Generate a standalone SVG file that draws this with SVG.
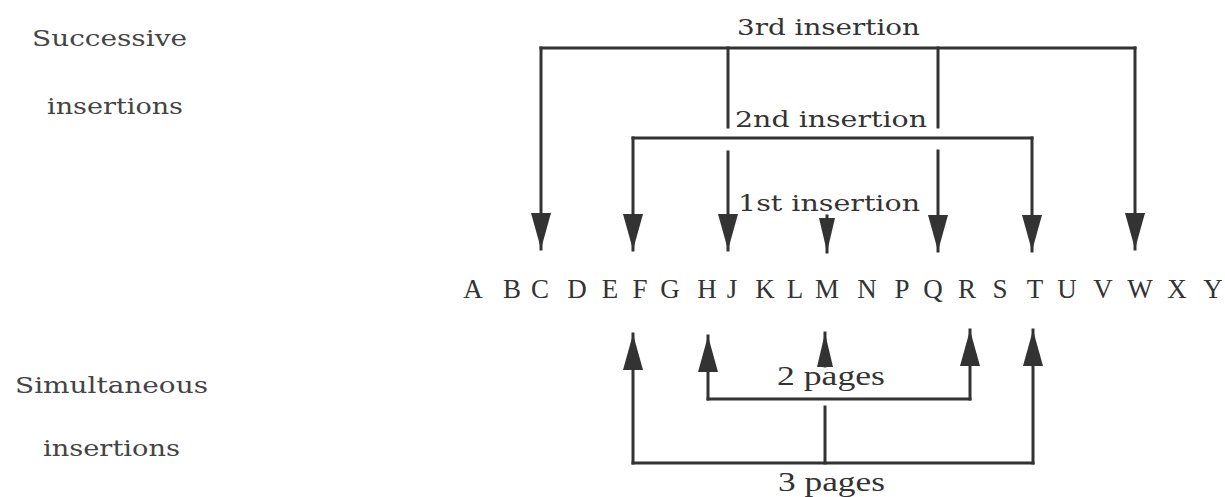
<svg xmlns="http://www.w3.org/2000/svg" width="1225" height="497" viewBox="0 0 1225 497">
  <defs>
    <marker id="big" viewBox="0 0 36 20" refX="36" refY="10" markerWidth="36" markerHeight="20" markerUnits="userSpaceOnUse" orient="auto">
      <path d="M0,0 L36,10 L0,20 z" fill="#333"/>
    </marker>
    <marker id="small" viewBox="0 0 34 16" refX="34" refY="8" markerWidth="34" markerHeight="16" markerUnits="userSpaceOnUse" orient="auto">
      <path d="M0,0 L34,8 L0,16 z" fill="#333"/>
    </marker>
  </defs>
  <style>
    .ln { fill: none; stroke: #333; stroke-width: 3; stroke-linecap: square; }
    .ab { marker-end: url(#big); }
    .as { marker-end: url(#small); }
    .lbl { font-family: "DejaVu Serif", "Liberation Serif", serif; font-size: 22px; fill: #333; }
    .side { font-family: "DejaVu Serif", "Liberation Serif", serif; font-size: 23px; fill: #444; }
    .row { font-family: "Liberation Serif", serif; font-size: 27px; fill: #333; text-anchor: middle; }
    .pg { font-family: "Liberation Serif", serif; font-size: 27px; fill: #333; }
  </style>
  <rect width="1225" height="497" fill="#fff"/>

  <g id="side-labels">
    <text class="side" x="32" y="46" textLength="155" lengthAdjust="spacingAndGlyphs">Successive</text>
    <text class="side" x="47" y="114" textLength="136" lengthAdjust="spacingAndGlyphs">insertions</text>
    <text class="side" x="15" y="393" textLength="193" lengthAdjust="spacingAndGlyphs">Simultaneous</text>
    <text class="side" x="43" y="456" textLength="137" lengthAdjust="spacingAndGlyphs">insertions</text>
  </g>

  <g id="letters">
    <text class="row" y="298" x="473 512 540 577 610 640 670 707 732 765 795 827 867 902 933 967 1000 1035 1067 1103 1140 1177 1213">ABCDEFGHJKLMNPQRSTUVWXY</text>
  </g>

  <g id="labels">
    <text class="lbl" x="737" y="35" textLength="183" lengthAdjust="spacingAndGlyphs">3rd insertion</text>
    <text class="lbl" x="735" y="127" textLength="192" lengthAdjust="spacingAndGlyphs">2nd insertion</text>
    <text class="lbl" x="738" y="211" textLength="182" lengthAdjust="spacingAndGlyphs">1st insertion</text>
    <text class="pg" x="777" y="385" textLength="108" lengthAdjust="spacingAndGlyphs">2 pages</text>
    <text class="pg" x="778" y="491" textLength="107" lengthAdjust="spacingAndGlyphs">3 pages</text>
  </g>

  <g id="connectors">
    <!-- 3rd insertion -->
    <path class="ln" d="M541,48 H1135"/>
    <path class="ln ab" d="M541,48 V249"/>
    <path class="ln ab" d="M1135,48 V249"/>
    <path class="ln" d="M728,48 V127"/>
    <path class="ln" d="M938,48 V127"/>
    <!-- 2nd insertion -->
    <path class="ln" d="M633,138 H1032"/>
    <path class="ln ab" d="M633,138 V250"/>
    <path class="ln ab" d="M1032,138 V251"/>
    <path class="ln ab" d="M728,152 V250"/>
    <path class="ln ab" d="M938,151 V251"/>
    <!-- 1st insertion -->
    <path class="ln as" d="M827,216 V252"/>
    <!-- 2 pages -->
    <path class="ln as" d="M825,366 V333"/>
    <path class="ln ab" d="M708,399 V336"/>
    <path class="ln ab" d="M970,399 V330"/>
    <path class="ln" d="M708,399 H970"/>
    <!-- 3 pages -->
    <path class="ln ab" d="M633,463 V334"/>
    <path class="ln ab" d="M1033,463 V330"/>
    <path class="ln" d="M633,463 H1033"/>
    <path class="ln" d="M825,407 V463"/>
  </g>
</svg>
